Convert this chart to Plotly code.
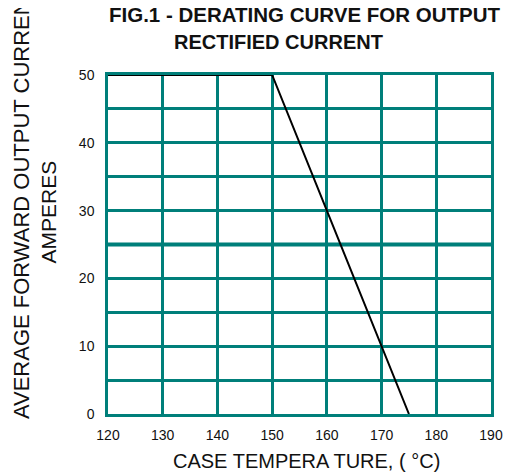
import plotly.graph_objects as go

# Data
temperature = [120, 150, 175]
current = [50, 50, 0]
x_ticks = [120, 130, 140, 150, 160, 170, 180, 190]
y_ticks = [0, 10, 20, 30, 40, 50]

TEAL = "#007f7a"
FONT = "Liberation Sans, Arial, sans-serif"

# page body has an 8px margin; compensate so the drawing lands at reference pixels
OFF = 8
W, H = 515 - OFF, 475 - OFF
L, R, T, B = 108 - OFF, 15, 75 - OFF, 61
pw, ph = W - L - R, H - T - B


def px(xp):
    return (xp - OFF - L) / pw


def py(yp):
    return (H - B - (yp - OFF)) / ph


fig = go.Figure()
fig.add_trace(go.Scatter(
    x=temperature, y=current, mode="lines",
    line=dict(color="black", width=2),
    cliponaxis=False, showlegend=False, hoverinfo="skip",
))

axis_common = dict(
    showgrid=True, gridcolor=TEAL, gridwidth=2.5,
    showline=True, mirror=True, linecolor=TEAL, linewidth=2.5,
    zeroline=False, layer="below traces",
    ticks="outside", tickcolor="rgba(0,0,0,0)",
    tickfont=dict(family=FONT, size=14, color="#111"),
)

fig.update_xaxes(range=[120, 190], tickvals=x_ticks, ticklen=6, **axis_common)
fig.update_yaxes(range=[0, 50], tickvals=y_ticks, ticklen=8,
                 minor=dict(dtick=5, tick0=0, showgrid=True, gridcolor=TEAL, gridwidth=2.5),
                 **axis_common)

# thicker mid line at 25 A
fig.add_shape(type="line", xref="x", yref="y", x0=120, x1=190, y0=25, y1=25,
              line=dict(color=TEAL, width=4), layer="below")

annotations = [
    dict(text="<b>FIG.1 - DERATING CURVE FOR OUTPUT</b>", x=px(310), y=py(15),
         font=dict(family=FONT, size=20.5, color="#111")),
    dict(text="<b>RECTIFIED CURRENT</b>", x=px(283), y=py(42),
         font=dict(family=FONT, size=20, color="#111")),
    dict(text="CASE TEMPERA TURE, ( \u00b0C)", x=px(311), y=py(461),
         font=dict(family=FONT, size=20, color="#111")),
    dict(text="AVERAGE FORWARD OUTPUT CURRENT", x=px(19), y=py(203),
         textangle=-90, font=dict(family=FONT, size=22, color="#111")),
    dict(text="AMPERES", x=px(47), y=py(212),
         textangle=-90, font=dict(family=FONT, size=21, color="#111")),
]
for a in annotations:
    fig.add_annotation(xref="paper", yref="paper", showarrow=False,
                       xanchor="center", yanchor="middle", **a)

fig.update_layout(
    width=W, height=H,
    margin=dict(l=L, r=R, t=T, b=B),
    plot_bgcolor="white", paper_bgcolor="white",
)

fig.write_html("out.html")
